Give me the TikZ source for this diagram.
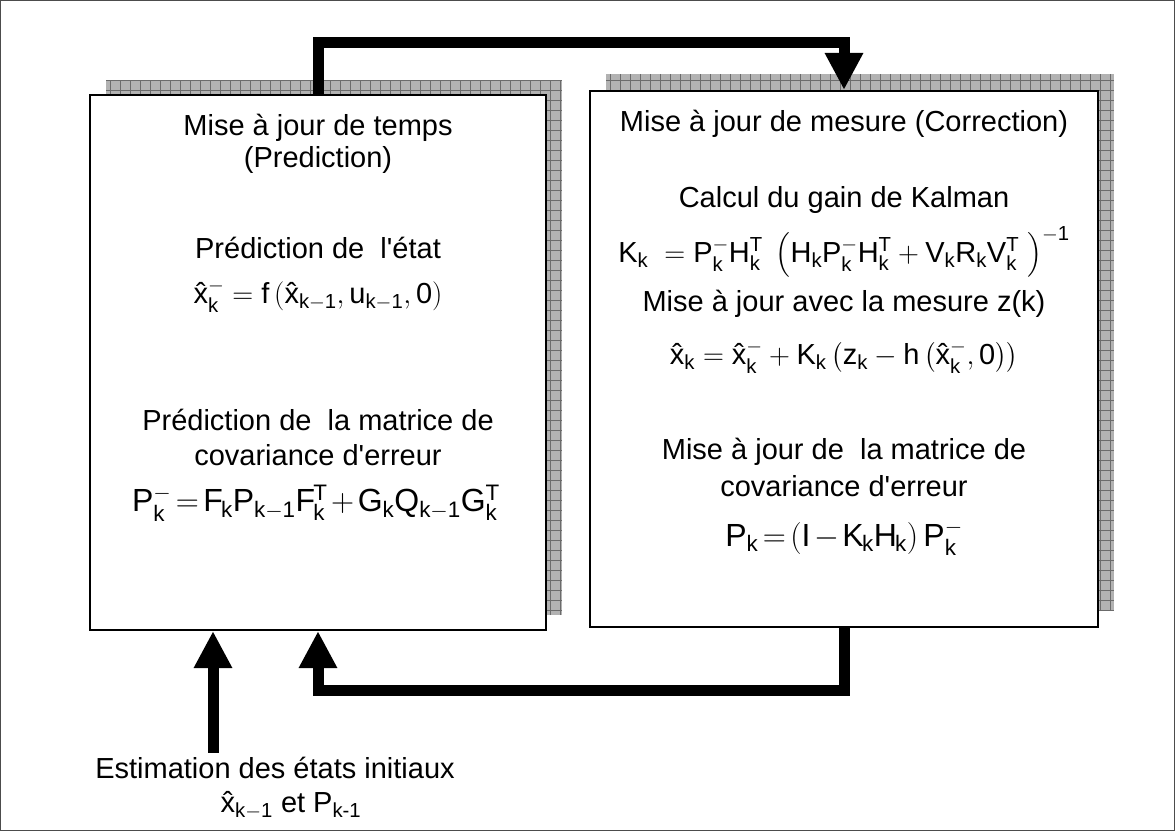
\documentclass[tikz,border=0pt]{standalone}
\usepackage{fix-cm}
\usepackage{amsmath}
\usepackage{fontspec}
\setmainfont{Liberation Sans}
\newfontfamily\lib{Liberation Sans}
\usetikzlibrary{arrows.meta}
\newcommand\tightm{\medmuskip=2mu\relax\thickmuskip=2.5mu\relax}
\newcommand\xh{\text{\ooalign{x\cr\hidewidth\char"02C6\hidewidth\cr}}}
\tikzset{
  box/.style={draw=black, line width=2.2pt, fill=white, inner sep=0pt, rectangle},
  shadowbox/.style={fill=black!30},
  gridl/.style={draw=black!58, line width=0.8pt},
  txt/.style={inner sep=0pt, font=\lib\fontsize{29}{34}\selectfont},
  eq/.style={inner sep=0pt, font=\fontsize{29}{34}\selectfont},
  eqbig/.style={inner sep=0pt, font=\fontsize{32}{36}\selectfont},
  flow/.style={draw=black, line width=11pt, line join=miter, -{Triangle[width=36pt,length=37pt]}}
}
\begin{document}
\begin{tikzpicture}[x=1pt,y=-1pt]
\useasboundingbox (0,0) rectangle (1175,831);
\draw[line width=1pt, black!70] (0.5,0.5) rectangle (1174.5,830.5);
% shadows
\fill[shadowbox] (106,80) rectangle (562,615);
\draw[gridl] (106,80) grid[step=10pt] (562,615);
\fill[shadowbox] (606,74) rectangle (1114,611);
\draw[gridl] (606,74) grid[step=10pt] (1114,611);
% boxes
\node[box, minimum width=456pt, minimum height=535pt] (L) at (318,362.5) {};
\node[box, minimum width=508pt, minimum height=536pt] (R) at (844,359) {};
% left texts
\node[txt] (Lt1) at (318,128) {Mise à jour de temps};
\node[txt] (Lt2) at (318,160) {(Prediction)};
\node[txt] (Ls1) at (318,248) {Prédiction de~ l'état};
\node[eq]  (Lf1) at (318,296) {$\mathrm{\xh^{-}_{k} = f\left(\xh_{k-1},u_{k-1},0\right)}$};
\node[txt] (Ls2) at (318,420) {Prédiction de~ la matrice de};
\node[txt] (Ls3) at (318,455) {covariance d'erreur};
\node[eqbig] (Lf2) at (316,503) {$\tightm\mathrm{P_k^- = F\mkern-1mu_k P_{k-1} F\mkern-1mu_k^T + G_k Q_{k-1} G_k^T}$};
% right texts
\node[txt] (Rt1) at (844,124) {Mise à jour de mesure (Correction)};
\node[txt] (Rs1) at (844,200) {Calcul du gain de Kalman};
\node[eq]  (Rf1) at (844,252) {$\mathrm{K_k\; = P_k^- H_k^T \;\left(H_k P_k^- H_k^T + V_k R_k V_k^T\;\right)^{-1}}$};
\node[txt] (Rs2) at (844,304) {Mise à jour avec la mesure z(k)};
\node[eq]  (Rf2) at (844,357) {$\mathrm{\xh_k = \xh_k^- + K_k \left(z_k - h\left(\xh_k^-,0\right)\right)}$};
\node[txt] (Rs3) at (844,452) {Mise à jour de~ la matrice de};
\node[txt] (Rs4) at (844,486) {covariance d'erreur};
\node[eqbig] (Rf3) at (844,538) {$\tightm\mathrm{P_k = \left(I - K\mkern-1mu_k H\mkern-1mu_k\right) P_k^-}$};
% bottom texts
\node[txt] (E1) at (275,768) {Estimation des états initiaux};
\node[txt] (E2) at (291,806) {$\mathrm{\xh_{k-1}}$ et P$_{\text{\lib k-1}}$};
% connectors
\coordinate (topy) at (0,42.5);
\draw[flow] (L.north) |- (topy -| R.north) -- (R.north);
\coordinate (boty) at (0,690);
\draw[flow] (R.south) |- (boty -| L.south) -- (L.south);
\coordinate (inx) at (213,0);
\draw[flow] (inx |- E1.north) ++(0,-4) -- (inx |- L.south);
\end{tikzpicture}
\end{document}
